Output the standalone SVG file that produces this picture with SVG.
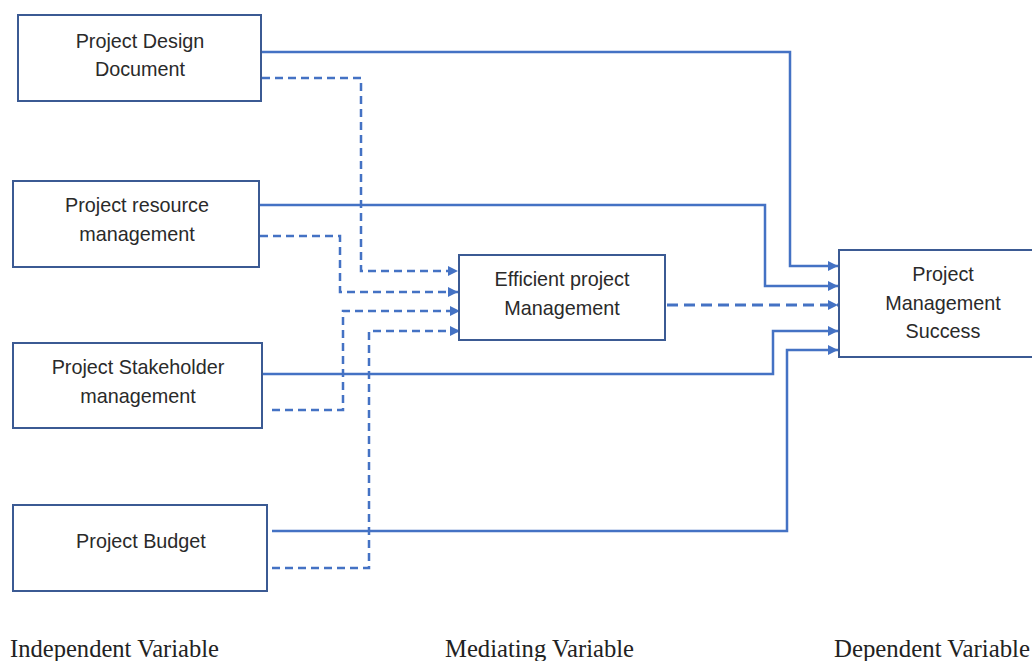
<svg xmlns="http://www.w3.org/2000/svg" width="1032" height="661" viewBox="0 0 1032 661">
<style>
.box{fill:#fff;stroke:#3B5A93;stroke-width:2}
.t{font-family:"Liberation Sans",Arial,sans-serif;font-size:19.8px;fill:#2a2a2a;text-anchor:middle}
.lbl{font-family:"Liberation Serif","Times New Roman",serif;font-size:25px;fill:#222}
.c{fill:none;stroke:#4472C4;stroke-width:2.5}
.d{stroke-dasharray:8 5}
.d2{stroke-width:3.2;stroke-dasharray:11 6}
</style>
<defs>
<marker id="ah" viewBox="0 0 10 10" refX="10" refY="5" markerWidth="12" markerHeight="10" markerUnits="userSpaceOnUse" orient="auto">
<path d="M0,0 L10,5 L0,10 z" fill="#4472C4"/>
</marker>
</defs>
<rect width="1032" height="661" fill="#fff"/>
<g id="connectors">
<path class="c" d="M261,52 H790 V266 H838" marker-end="url(#ah)"/>
<path class="c" d="M259,205 H765 V286 H838" marker-end="url(#ah)"/>
<path class="c d2" d="M667,305 H838" marker-end="url(#ah)"/>
<path class="c" d="M262,374 H773 V331 H838" marker-end="url(#ah)"/>
<path class="c" d="M272,531 H787 V350 H838" marker-end="url(#ah)"/>
<path class="c d" d="M262,78 H361 V271 H458" marker-end="url(#ah)"/>
<path class="c d" d="M260,236 H340 V292 H458" marker-end="url(#ah)"/>
<path class="c d" d="M272,410 H343 V311 H460" marker-end="url(#ah)"/>
<path class="c d" d="M272,568 H369 V331 H460" marker-end="url(#ah)"/>
</g>
<g id="n1"><rect class="box" x="18" y="15" width="243" height="86"/>
<text class="t" x="140" y="48">Project Design</text><text class="t" x="140" y="76">Document</text></g>
<g id="n2"><rect class="box" x="13" y="181" width="246" height="86"/>
<text class="t" x="137" y="212">Project resource</text><text class="t" x="137" y="241">management</text></g>
<g id="n3"><rect class="box" x="13" y="343" width="249" height="85"/>
<text class="t" x="138" y="374">Project Stakeholder</text><text class="t" x="138" y="403">management</text></g>
<g id="n4"><rect class="box" x="13" y="505" width="254" height="86"/>
<text class="t" x="141" y="548">Project Budget</text></g>
<g id="n5"><rect class="box" x="459" y="255" width="206" height="85"/>
<text class="t" x="562" y="286">Efficient project</text><text class="t" x="562" y="315">Management</text></g>
<g id="n6"><rect class="box" x="839" y="250" width="200" height="107"/>
<text class="t" x="943" y="281">Project</text><text class="t" x="943" y="310">Management</text><text class="t" x="943" y="338">Success</text></g>
<g id="labels">
<text class="lbl" x="10" y="657" textLength="209" lengthAdjust="spacingAndGlyphs">Independent Variable</text>
<text class="lbl" x="445" y="657" textLength="189" lengthAdjust="spacingAndGlyphs">Mediating Variable</text>
<text class="lbl" x="834" y="657" textLength="196" lengthAdjust="spacingAndGlyphs">Dependent Variable</text>
</g>
</svg>
